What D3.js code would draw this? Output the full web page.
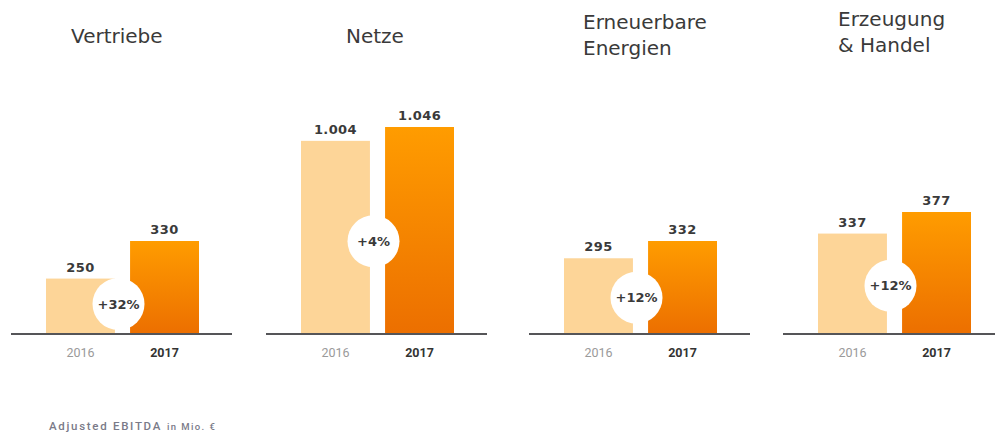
<!DOCTYPE html>
<html>
<head>
<meta charset="utf-8">
<script src="https://cdn.jsdelivr.net/npm/d3@7/dist/d3.min.js"></script>
<style>
  html, body { margin: 0; padding: 0; background: #ffffff; }
  svg { display: block; }
</style>
</head>
<body>
<div id="chart"></div>
<script>
// ---- data ----
const categories = ["Vertriebe", "Netze", "Erneuerbare Energien", "Erzeugung & Handel"];
const titleLines = [["Vertriebe"], ["Netze"], ["Erneuerbare", "Energien"], ["Erzeugung", "& Handel"]];
const years = ["2016", "2017"];
const values2016 = [250, 1004, 295, 337];
const values2017 = [330, 1046, 332, 377];
const valueLabels2016 = ["250", "1.004", "295", "337"];
const valueLabels2017 = ["330", "1.046", "332", "377"];
const changeLabels = ["+32%", "+4%", "+12%", "+12%"];
const footnoteMain = "Adjusted EBITDA";
const footnoteUnit = "in Mio. €";

// ---- layout ----
const W = 995, H = 437;
const baseY = 334;
const panelX = [46, 301, 564, 818];
const panelMaxH = [93, 207, 93, 122];
const titleX = [71, 346, 583, 838];
const titleY = [43, 43, 29, 26];
const groupW = 153;

const svg = d3.select("#chart").append("svg").attr("width", W).attr("height", H);

const defs = svg.append("defs");
const grad = defs.append("linearGradient").attr("id", "g2017")
  .attr("x1", 0).attr("y1", 0).attr("x2", 0).attr("y2", 1);
grad.append("stop").attr("offset", "0%").attr("stop-color", "#ff9c00");
grad.append("stop").attr("offset", "100%").attr("stop-color", "#ec6f00");

categories.forEach((cat, i) => {
  const g = svg.append("g");
  const vals = [values2016[i], values2017[i]];
  const labels = [valueLabels2016[i], valueLabels2017[i]];
  const maxV = d3.max(vals);

  const x = d3.scaleBand().domain(years)
    .range([panelX[i], panelX[i] + groupW]).paddingInner(0.18).paddingOuter(0);
  const h = d3.scaleLinear().domain([0.4 * maxV, maxV]).range([0, panelMaxH[i]]);

  // title
  const t = g.append("text")
    .attr("x", titleX[i]).attr("y", titleY[i])
    .attr("font-family", "DejaVu Sans, sans-serif")
    .attr("font-size", 20).attr("fill", "#3a3a3a");
  titleLines[i].forEach((line, k) => {
    t.append("tspan").attr("x", titleX[i]).attr("dy", k === 0 ? 0 : 26).text(line);
  });

  // bars
  years.forEach((yr, k) => {
    g.append("rect")
      .attr("x", x(yr)).attr("width", x.bandwidth())
      .attr("y", baseY - h(vals[k])).attr("height", h(vals[k]))
      .attr("fill", k === 0 ? "#fdd598" : "url(#g2017)");

    g.append("text")
      .attr("x", x(yr) + x.bandwidth() / 2)
      .attr("y", baseY - h(vals[k]) - 7)
      .attr("text-anchor", "middle")
      .attr("font-family", "DejaVu Sans, sans-serif")
      .attr("font-weight", "bold").attr("font-size", 13)
      .attr("letter-spacing", 0.4)
      .attr("fill", "#3a3a3a")
      .text(labels[k]);

    g.append("text")
      .attr("x", x(yr) + x.bandwidth() / 2)
      .attr("y", 357)
      .attr("text-anchor", "middle")
      .attr("font-family", "Roboto, sans-serif")
      .attr("font-weight", k === 0 ? "normal" : "bold")
      .attr("font-size", 12.5)
      .attr("fill", k === 0 ? "#9a9a9a" : "#333333")
      .text(yr);
  });

  // change circle
  const gapCx = (x(years[0]) + x.bandwidth() + x(years[1])) / 2 - 4;
  const cy = baseY - Math.max(30, 0.48 * h(vals[0]));
  g.append("circle").attr("cx", gapCx).attr("cy", cy).attr("r", 26).attr("fill", "#ffffff");
  g.append("text")
    .attr("x", gapCx).attr("y", cy).attr("dy", "0.36em")
    .attr("text-anchor", "middle")
    .attr("font-family", "DejaVu Sans, sans-serif")
    .attr("font-weight", "bold").attr("font-size", 13)
    .attr("fill", "#3a3a3a")
    .text(changeLabels[i]);

  // baseline
  g.append("line")
    .attr("x1", panelX[i] - 35).attr("x2", panelX[i] + 186)
    .attr("y1", baseY).attr("y2", baseY)
    .attr("stroke", "#555558").attr("stroke-width", 2);
});

// footnote
const fn = svg.append("text").attr("x", 49).attr("y", 430)
  .attr("font-family", "Roboto, sans-serif").attr("fill", "#7a7a88");
fn.append("tspan").attr("font-size", 11.5).attr("font-weight", 500)
  .attr("letter-spacing", 1.7).text(footnoteMain);
fn.append("tspan").attr("dx", 5).attr("font-size", 9.5).attr("font-weight", 500)
  .attr("letter-spacing", 1.4).text(footnoteUnit);
</script>
</body>
</html>
